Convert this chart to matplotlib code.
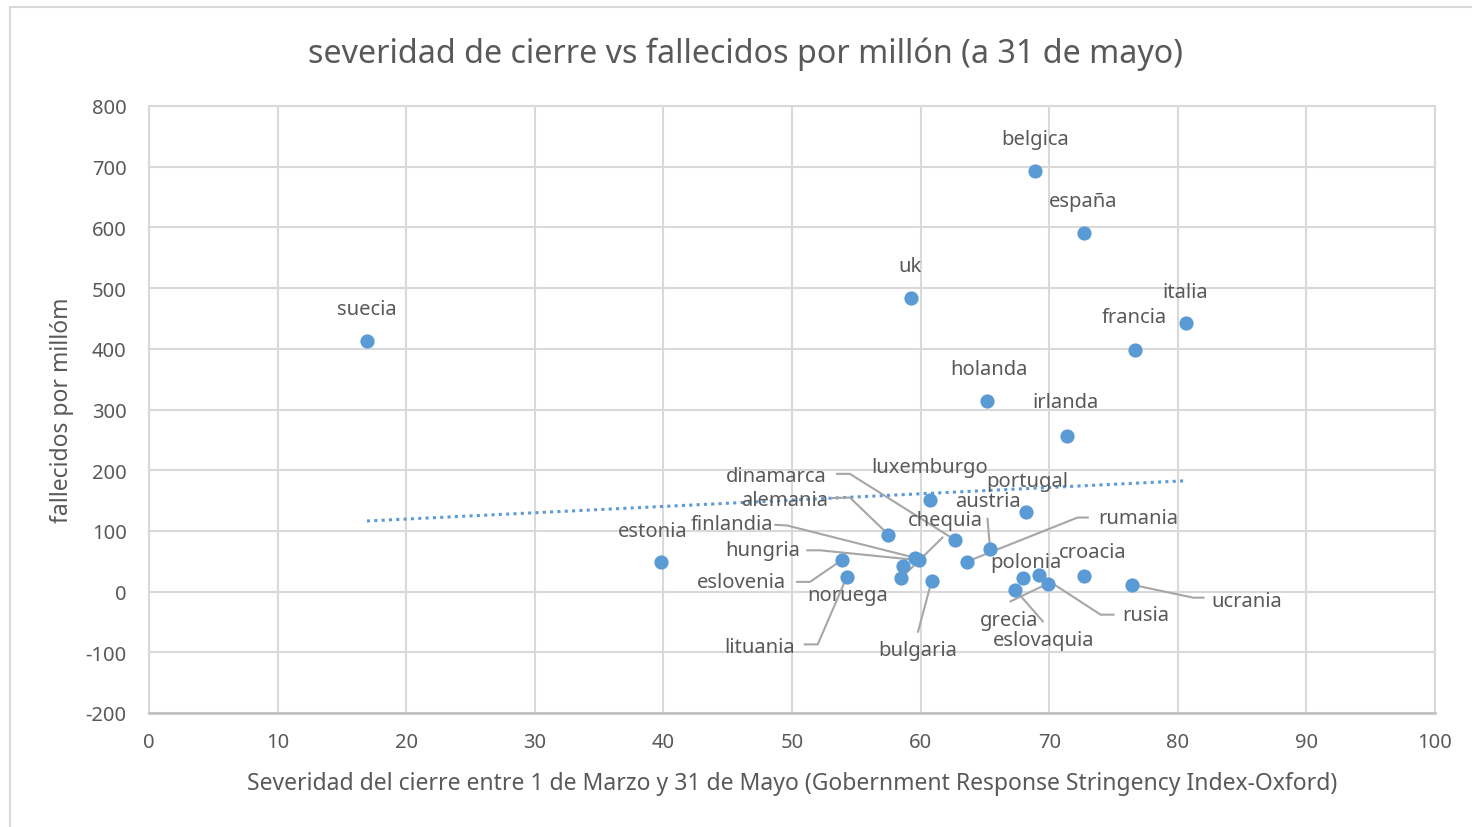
import numpy as np
import matplotlib
matplotlib.use("Agg")
import matplotlib.pyplot as plt
from matplotlib.patches import Rectangle

plt.rcParams['font.family'] = ['Noto Sans', 'DejaVu Sans']
plt.rcParams['axes.unicode_minus'] = False

countries = ["suecia", "estonia", "belgica", "españa", "uk", "italia", "francia",
             "holanda", "irlanda", "luxemburgo", "portugal", "alemania", "dinamarca",
             "austria", "rumania", "finlandia", "hungria", "noruega", "chequia",
             "eslovenia", "lituania", "bulgaria", "polonia", "rusia", "grecia",
             "eslovaquia", "croacia", "ucrania"]
stringency = [16.95, 39.8, 68.9, 72.7, 59.25, 80.6, 76.7,
              65.2, 71.4, 60.7, 68.2, 57.5, 62.7,
              65.4, 63.6, 59.6, 59.9, 58.65, 58.5,
              53.85, 54.25, 60.85, 67.95, 69.2, 69.9,
              67.35, 72.7, 76.4]
deaths = [413.5, 49.4, 693.6, 591.4, 484.3, 443.2, 398.7,
          314.7, 257.0, 151.6, 130.6, 93.9, 84.8,
          70.8, 49.4, 55.5, 51.6, 41.7, 22.6,
          51.6, 23.6, 17.0, 22.6, 28.0, 13.2,
          3.3, 25.2, 11.5]

title = "severidad de cierre vs fallecidos por millón (a 31 de mayo)"
xlabel = "Severidad del cierre entre 1 de Marzo y 31 de Mayo (Gobernment Response Stringency Index-Oxford)"
ylabel = "fallecidos por millóm"
xticks = [0, 10, 20, 30, 40, 50, 60, 70, 80, 90, 100]
yticks = [-200, -100, 0, 100, 200, 300, 400, 500, 600, 700, 800]

# label placement (data coords) and optional leader path (data coords, label side first)
label_pos = {
    "suecia": (16.9, 466), "estonia": (39.2, 100), "belgica": (68.9, 746),
    "españa": (72.6, 644), "uk": (59.2, 537), "italia": (80.6, 494),
    "francia": (76.6, 452), "holanda": (65.3, 366), "irlanda": (71.3, 312),
    "luxemburgo": (60.7, 205), "portugal": (68.3, 183), "dinamarca": (48.8, 191),
    "alemania": (49.4, 151), "chequia": (61.9, 118), "austria": (65.2, 150),
    "rumania": (76.9, 122), "finlandia": (45.3, 112), "hungria": (47.7, 68),
    "noruega": (54.3, -5), "eslovenia": (46.1, 16), "lituania": (47.5, -91),
    "bulgaria": (59.8, -97), "polonia": (68.2, 48), "croacia": (73.4, 65),
    "grecia": (66.9, -47), "eslovaquia": (69.6, -79), "rusia": (77.5, -39),
    "ucrania": (85.4, -15),
}
leaders = {
    "dinamarca": [(53.5, 194), (54.5, 194)],
    "alemania": [(53.1, 154), (54.5, 155)],
    "chequia": [(61.7, 89)],
    "austria": [(65.2, 120)],
    "rumania": [(73.0, 122), (72.2, 122)],
    "finlandia": [(48.7, 110), (49.6, 109)],
    "hungria": [(51.2, 68), (52.2, 68)],
    "eslovenia": [(50.4, 16), (51.4, 16)],
    "lituania": [(51.0, -87), (52.0, -87)],
    "bulgaria": [(59.8, -66)],
    "grecia": [(67.0, -16)],
    "eslovaquia": [(69.5, -49)],
    "rusia": [(75.0, -38), (74.0, -38)],
    "ucrania": [(82.0, -10), (81.2, -10)],
}

W, H = 1472, 828
fig = plt.figure(figsize=(W / 100, H / 100), dpi=100)
fig.patches.append(Rectangle((10 / W, -0.01), 1.0, (828 - 8) / H + 0.01,
                             transform=fig.transFigure, fill=False,
                             edgecolor="#d9d9d9", linewidth=1.5))
ax = fig.add_axes([149 / W, (H - 714) / H, (1435 - 149) / W, (714 - 107) / H])

grid_c = "#d9d9d9"
txt_c = "#595959"
pt_c = "#5b9bd5"
lead_c = "#a6a6a6"

ax.set_xlim(0, 100)
ax.set_ylim(-200, 800)
ax.set_xticks(xticks)
ax.set_yticks(yticks)
ax.grid(True, color=grid_c, linewidth=1.5)
ax.set_axisbelow(True)
for s in ["top", "right", "left"]:
    ax.spines[s].set_color(grid_c)
    ax.spines[s].set_linewidth(1.5)
ax.spines["bottom"].set_color("#bfbfbf")
ax.spines["bottom"].set_linewidth(1.8)
ax.tick_params(length=0, labelsize=14.5, colors=txt_c)
ax.tick_params(axis="x", pad=14)
ax.tick_params(axis="y", pad=16)

# trendline (linear least squares)
xs = np.array(stringency)
ys = np.array(deaths)
m, b = np.polyfit(xs, ys, 1)
tx = np.array([xs.min(), xs.max()])
ax.plot(tx, m * tx + b, linestyle=(0, (1, 1.4)), color=pt_c, linewidth=2.2, zorder=2)

ax.scatter(xs, ys, s=105, color=pt_c, zorder=4, linewidths=0)

for name, xv, yv in zip(countries, stringency, deaths):
    lx, ly = label_pos[name]
    ax.text(lx, ly, name, ha="center", va="center", fontsize=14.5, color=txt_c, zorder=5)
    if name in leaders:
        path = leaders[name] + [(xv, yv)]
        px = [p[0] for p in path]
        py = [p[1] for p in path]
        ax.plot(px, py, color=lead_c, linewidth=1.5, zorder=3)

ax.set_xlabel(xlabel, fontsize=16.5, color=txt_c)
ax.xaxis.set_label_coords(0.5, -(784 - 714) / (714 - 107))
ax.xaxis.label.set_va("center")
ax.set_ylabel(ylabel, fontsize=16.5, color=txt_c)
ax.yaxis.set_label_coords(-(149 - 62) / (1435 - 149), 0.5)
ax.yaxis.label.set_va("center")
fig.text((308 + 1183) / 2 / W, 1 - 54 / H, title, ha="center", va="center",
         fontsize=23.2, color=txt_c)

fig.savefig("out.png", dpi=100)
